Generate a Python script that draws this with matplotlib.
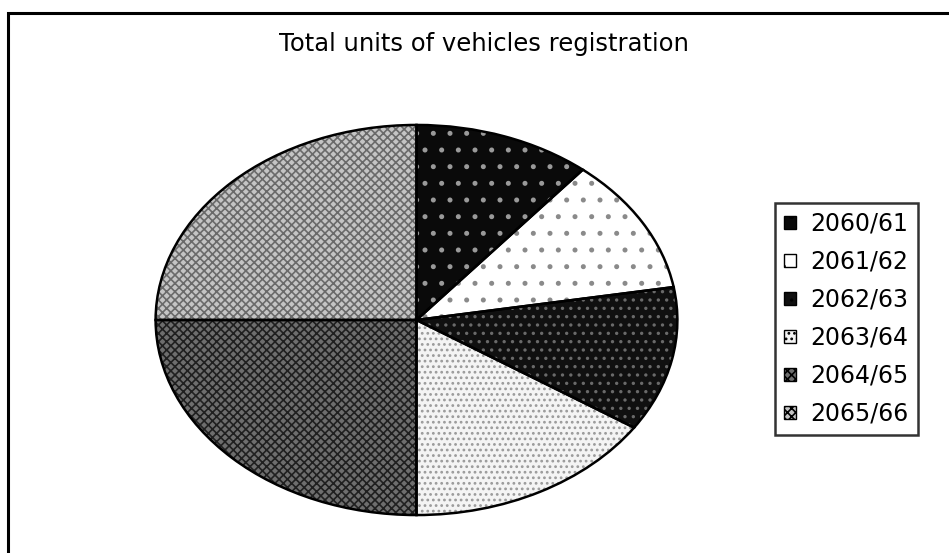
import matplotlib
matplotlib.use("Agg")
import matplotlib.pyplot as plt
from matplotlib.patches import Rectangle

plt.rcParams['font.family'] = ['DejaVu Sans']

categories = ["2060/61", "2061/62", "2062/63", "2063/64", "2064/65", "2065/66"]
values = [11.0, 11.3, 12.0, 15.7, 25.0, 25.0]
title = "Total units of vehicles registration"

faces = ['#0a0a0a', '#ffffff', '#101010', '#f4f4f4', '#6e6e6e', '#c4c4c4']
hatch_colors = ['#9a9a9a', '#8a8a8a', '#6a6a6a', '#9a9a9a', '#202020', '#6a6a6a']
hatches = ['.', '.', '..', '...', 'xxxx', 'xxxx']

W, H = 949, 553
fig = plt.figure(figsize=(W / 100, H / 100), dpi=100)
fig.patch.set_facecolor('white')

# outer frame
fig.add_artist(Rectangle((8 / W, -0.05), 1.2, 1 - 13 / H + 0.05, transform=fig.transFigure,
                         fill=False, edgecolor='black', linewidth=2.2))

x0, x1, y0, y1 = 153, 680, 123, 517
ax = fig.add_axes([x0 / W, (H - y1) / H, (x1 - x0) / W, (y1 - y0) / H])
plt.rcParams['hatch.linewidth'] = 1.2
wedges, _ = ax.pie(values, startangle=90, counterclock=False, radius=1)
for w, fc, hc, h in zip(wedges, faces, hatch_colors, hatches):
    w.set_facecolor(fc)
    w.set_edgecolor(hc)
    w.set_hatch(h)
    w.set_linewidth(0)
# outline overlay
outl, _ = ax.pie(values, startangle=90, counterclock=False, radius=1,
                 wedgeprops=dict(fill=False, edgecolor='black', linewidth=1.8))
ax.set_aspect('auto')
ax.set_xlim(-1.01, 1.01)
ax.set_ylim(-1.01, 1.01)
ax.axis('off')

fig.text(484 / W, 1 - 51 / H, title, ha='center', va='baseline', fontsize=17.5)

leg = fig.legend(wedges, categories, loc='upper left',
                 bbox_to_anchor=(775 / W, 1 - 203 / H), frameon=True, fancybox=False,
                 edgecolor='black', fontsize=17, handlelength=0.52, handleheight=0.5,
                 handletextpad=0.6, labelspacing=0.59, borderpad=0.38,
                 borderaxespad=0)
leg.get_frame().set_linewidth(1.8)
for p in leg.get_patches():
    p.set_linewidth(1.0)
    p.set_edgecolor('black')

fig.savefig("out.png", dpi=100)
